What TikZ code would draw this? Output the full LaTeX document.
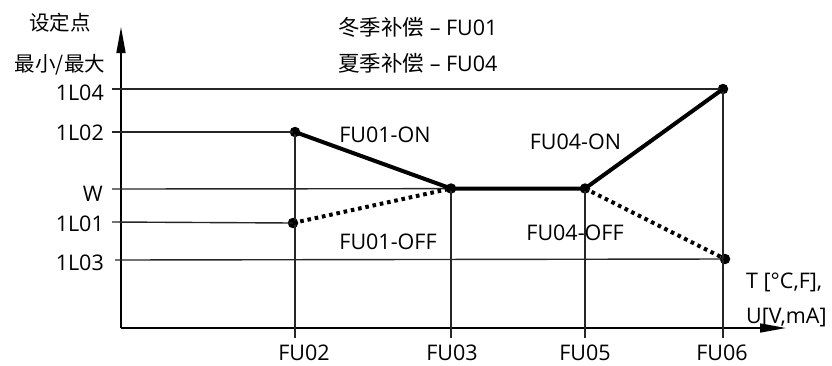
\documentclass[tikz,border=0pt]{standalone}
\usepackage{fontspec}
\setmainfont{Open Sans}
\newfontfamily\cjk{Noto Sans CJK SC}
\usetikzlibrary{arrows.meta}
\begin{document}
\begin{tikzpicture}[x=1pt,y=-1pt,
  thin line/.style={line width=1.4pt, draw=black!85},
  thick line/.style={line width=4pt, line cap=round, line join=round},
  dotted line/.style={line width=4pt, dash pattern=on 3.6pt off 3.8pt},
  axis/.style={line width=1.5pt, -{Triangle[length=26pt,width=9pt]}},
  dot/.style={circle, fill=black, inner sep=0pt, minimum size=10.5pt},
  lbl/.style={font=\fontsize{21.5}{24}\selectfont, inner sep=0pt},
  blbl/.style={lbl, anchor=base, text depth=0pt},
  clbl/.style={font=\fontsize{20.5}{24}\selectfont\cjk, inner sep=0pt}]
\useasboundingbox (0,0) rectangle (832,365);
% points
\node[dot] (p2on) at (295,132) {};
\node[dot] (p2off) at (293,223) {};
\node[dot] (p3) at (451,188.5) {};
\node[dot] (p5) at (585,188.5) {};
\node[dot] (p6on) at (723,89) {};
\node[dot] (p6off) at (725,259) {};
% axes
\coordinate (o) at (121,328);
\coordinate (ytop) at (121,27);
\coordinate (xend) at (786,328);
\draw[axis] (o) -- (ytop);
\draw[axis] (o) -- (xend);
% ticks / grid lines
\coordinate (l4) at (112,89);
\coordinate (l2) at (112,132);
\coordinate (lw) at (112,189);
\coordinate (l1) at (112,222);
\coordinate (l3) at (115,260);
\draw[thin line] (l4) -- (p6on.center);
\draw[thin line] (l2) -- (p2on.center);
\draw[thin line] (lw) -- (p5.center);
\draw[thin line] (l1) -- (p2off.center);
\draw[thin line] (l3) -- (p6off.center);
\coordinate (t2) at (295,338);
\coordinate (t3) at (451,338);
\coordinate (t5) at (585,338);
\coordinate (t6) at (723,338);
\draw[thin line] (p2on.center) -- (t2);
\draw[thin line] (p3.center) -- (t3);
\draw[thin line] (p5.center) -- (t5);
\draw[thin line] (p6on.center) -- (t6);
% curves
\draw[thick line] (p2on.center) -- (p3.center) -- (p5.center) -- (p6on.center);
\draw[dotted line] (p2off.center) -- (p3.center);
\draw[dotted line] (p5.center) -- (p6off.center);
% labels
\node[clbl] (ylab1) at (60,23) {设定点};
\node[clbl] (ylab2) at (60,65) {最小/最大};
\node[lbl, anchor=west] (win) at (338,27) {{\cjk 冬季补偿} – FU01};
\node[lbl, anchor=west] (sum) at (338,63) {{\cjk 夏季补偿} – FU04};
\node[lbl, anchor=east] (n4) at (104,93) {1L04};
\node[lbl, anchor=east] (n2) at (104,133) {1L02};
\node[lbl, anchor=east] (nw) at (103,194) {W};
\node[lbl, anchor=east] (n1) at (104,224) {1L01};
\node[lbl, anchor=east] (n3) at (104,263) {1L03};
\node[lbl] (on1) at (385,134.5) {FU01-ON};
\node[lbl] (off1) at (388,241.5) {FU01-OFF};
\node[lbl] (on4) at (575.5,141.5) {FU04-ON};
\node[lbl] (off4) at (575,233) {FU04-OFF};
\node[lbl, anchor=west] (tl) at (746,282) {T [°C,F],};
\node[lbl, anchor=west] (ul) at (746,317) {U[V,mA]};
\node[blbl] (f2) at (304,360) {FU02};
\node[blbl] (f3) at (452,360) {FU03};
\node[blbl] (f5) at (585,360) {FU05};
\node[blbl] (f6) at (722,360) {FU06};
\end{tikzpicture}
\end{document}
